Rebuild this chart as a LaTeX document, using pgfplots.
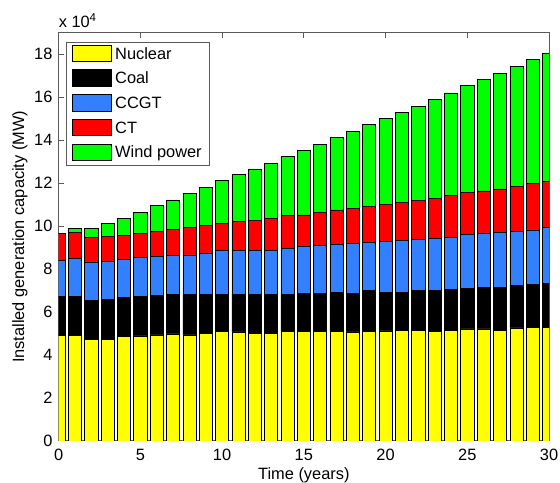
\documentclass[border=0pt]{standalone}
\usepackage{pgfplots}
\pgfplotsset{compat=1.18}
\usepackage{pgfplotstable}
\usepackage{fontspec}
\setmainfont{Liberation Sans}

\definecolor{nuc}{RGB}{255,255,0}
\definecolor{coal}{RGB}{0,0,0}
\definecolor{ccgt}{RGB}{51,128,255}
\definecolor{ct}{RGB}{255,0,0}
\definecolor{wind}{RGB}{0,255,0}
\definecolor{axgray}{RGB}{90,90,90}

% installed capacity by technology (MW), one row per year
\pgfplotstableread{
year nuclear coal ccgt ct wind
0  49000 18100 17000 12500 0
1  49000 18100 17800 12100 1800
2  47200 18300 17800 11600 3900
3  47200 18800 17600 11600 5900
4  48500 18300 17600 11300 8000
5  48900 18200 18200 11300 9900
6  49300 18600 17900 11700 12100
7  49800 18200 18300 12100 13800
8  49300 18700 18600 12600 16000
9  50200 17800 19500 12700 17900
10 51000 17300 20200 12600 20100
11 50700 17600 20200 13500 22000
12 50200 18100 20400 13900 24000
13 50200 17800 20700 14700 25900
14 51000 17300 21400 15100 27500
15 51100 17700 21600 14800 29900
16 51000 17800 22200 15200 32000
17 51000 18300 22200 16000 33600
18 50700 18100 23100 16500 35700
19 51000 18900 22500 16900 37900
20 51200 18100 23600 17300 39800
21 51500 17800 24000 17700 42100
22 51500 18400 23900 18100 43800
23 51000 19200 24100 18500 46200
24 51500 19000 24200 19400 47900
25 52100 18900 25000 19600 50000
26 52100 19200 25500 19600 52000
27 51500 19900 25600 20300 53900
28 52600 19600 25200 21200 55800
29 52900 20100 25200 21800 57600
30 52900 20400 25900 21700 59700
}\capacity

\begin{document}
\begin{tikzpicture}
\path[use as bounding box] (-59pt,-42pt) rectangle (505pt,444pt);
\begin{axis}[
  name=ax,
  at={(0,0)}, anchor=south west,
  scale only axis,
  width=494pt, height=411pt,
  ybar stacked, bar width=0.8,
  xmin=0, xmax=30, ymin=0, ymax=190000,
  xtick={0,5,...,30},
  ytick={0,20000,...,180000},
  yticklabels={0,2,4,6,8,10,12,14,16,18},
  scaled y ticks=false,
  tick align=inside,
  tick pos=both,
  major tick length=5pt,
  minor tick num=0,
  axis line style={axgray, line width=0.9pt},
  every tick/.style={axgray, line width=0.8pt},
  font=\fontsize{16.5}{19}\selectfont,
  /pgf/number format/assume math mode=true,
  ticklabel style={font=\fontsize{16.5}{19}\selectfont},
  xticklabel style={inner sep=0pt, yshift=-8pt},
  yticklabel style={inner sep=0pt, xshift=-6pt},
  xlabel={Time (years)},
  ylabel={Installed generation capacity (MW)},
  xlabel style={at={(axis description cs:0.5,0)}, anchor=north, inner sep=0pt, yshift=-27pt},
  ylabel style={at={(axis description cs:-0.079,0.5)}, anchor=center, inner sep=0pt},
  every axis plot/.append style={draw=black, line width=0.6pt},
  legend image code/.code={\draw[#1] (0pt,-6.6pt) rectangle (39pt,10pt);},
  legend cell align=left,
  legend style={
    at={(0.0142,0.978)}, anchor=north west,
    draw=axgray, line width=0.8pt, fill=white,
    inner xsep=6.5pt, inner ysep=2.7pt,
    row sep=5.3pt, column sep=2pt,
    nodes={inner sep=1.5pt, text height=12pt, text depth=3.5pt},
    font=\fontsize{16.5}{19}\selectfont,
  },
]
\addplot[fill=nuc] table[x=year, y=nuclear] {\capacity};
\addplot[fill=coal] table[x=year, y=coal] {\capacity};
\addplot[fill=ccgt] table[x=year, y=ccgt] {\capacity};
\addplot[fill=ct] table[x=year, y=ct] {\capacity};
\addplot[fill=wind] table[x=year, y=wind] {\capacity};
\legend{Nuclear, Coal, CCGT, CT, Wind power}
\end{axis}
% common factor of the y tick labels
\node[anchor=south west, inner sep=0pt, font=\fontsize{16.5}{19}\selectfont]
  at ([yshift=5pt]ax.north west) {x 10\textsuperscript{4}};
\end{tikzpicture}
\end{document}
